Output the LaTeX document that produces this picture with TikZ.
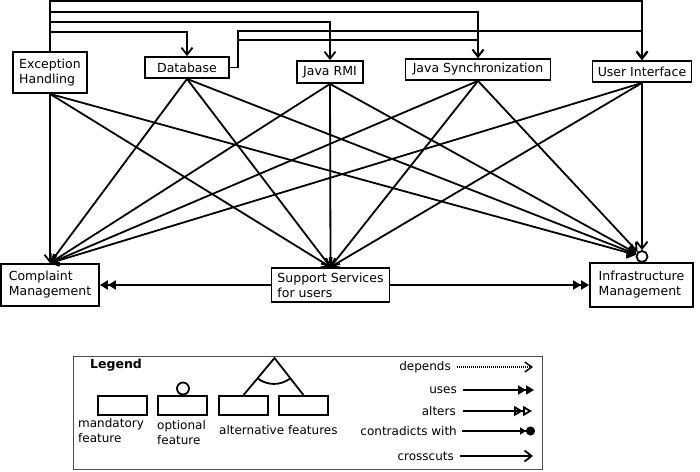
\documentclass[tikz,border=0pt]{standalone}
\usepackage{fontspec}
\setmainfont{DejaVu Sans}
\usetikzlibrary{arrows.meta,calc}
\begin{document}
\begin{tikzpicture}[x=1pt,y=-1pt,
  lw/.style={line width=1.8pt},
  box/.style={draw,lw,inner sep=0pt,align=left,font=\fontsize{12.5}{15}\selectfont},
  lbox/.style={draw,lw,inner sep=0pt,minimum width=49pt,minimum height=19pt},
  txt/.style={inner sep=0pt,align=left,font=\fontsize{12}{15}\selectfont},
  cc/.style={lw,-{Straight Barb[length=7pt,width=11pt]}},
  usesarr/.style={lw,-{Triangle[length=8pt,width=9pt]Triangle[length=8pt,width=9pt]}},
  altarr/.style={lw,-{Triangle[open,length=9pt,width=10pt]Triangle[open,length=9pt,width=10pt]}},
  contarr/.style={lw,-{Triangle[length=6pt,width=7pt]Circle[length=9pt]}},
  deparr/.style={line width=1.4pt,dash pattern=on 1pt off 1pt,-{Straight Barb[length=7pt,width=10pt,line width=1.4pt,sep=0pt]}},
]
\useasboundingbox (0,0) rectangle (700,471);

% feature nodes
\node[box,minimum width=74pt,minimum height=41pt] (eh) at (50,72.5) {Exception\\Handling};
\node[box,minimum width=84pt,minimum height=21pt] (db) at (187,67.5) {Database};
\node[box,minimum width=66pt,minimum height=22pt] (rmi) at (330,72) {Java RMI};
\node[box,minimum width=145pt,minimum height=21pt] (js) at (478,69.5) {Java Synchronization};
\node[box,minimum width=99pt,minimum height=21pt] (ui) at (642,71.5) {User Interface};
\node[box,minimum width=98pt,minimum height=42pt] (cm) at (50,285) {Complaint\\Management};
\node[box,minimum width=118pt,minimum height=34pt] (ss) at (330.5,285) {Support Services\\for users};
\node[box,minimum width=103pt,minimum height=44pt] (im) at (641.5,285) {Infrastructure\\Management};
\node[circle,draw,lw,minimum size=11pt,inner sep=0pt] (oc) at (642,256.5) {};

% crosscut routes along the top
\draw[cc,line width=2.2pt] (eh.north) -- ++(0,-50.5) -| (ui.north);
\draw[cc] (eh.north) -- ++(0,-39) -| (js.north);
\draw[cc] (eh.north) -- ++(0,-29) -| (rmi.north);
\draw[cc] (eh.north) -- ++(0,-19) -| (db.north);
\draw[cc] (db.east) -- ++(8,0) |- (ui.north |- 0,31) -- (ui.north);
\draw[cc] (db.east) -- ++(8,0) |- (js.north |- 0,40) -- (js.north);

% crosscuts to the lower features
\foreach \s in {eh,db,rmi,js,ui} {
  \draw[cc] (\s.south) -- (cm.north);
  \draw[cc] (\s.south) -- (ss.north);
  \draw[cc] (\s.south) -- (oc);
}

% uses
\draw[usesarr] (ss.west) -- (cm.east);
\draw[usesarr] (ss.east) -- (im.west);

% legend
\node[draw=black!70,line width=1pt,minimum width=469pt,minimum height=113pt,inner sep=0pt] (leg) at (307.5,412.5) {};
\node[anchor=west,inner sep=0pt,font=\bfseries\fontsize{12.5}{14}\selectfont] (legt) at (90,365) {Legend};
\node[lbox] (lm) at (122.5,405.5) {};
\node[lbox] (lo) at (182.5,405.5) {};
\node[circle,draw,lw,minimum size=12pt,inner sep=0pt] (loc) at (183,388.5) {};
\node[lbox] (la1) at (243.5,405.5) {};
\node[lbox] (la2) at (303.5,405.5) {};
\coordinate (apex) at (274.5,358);
\draw[lw] (la1.north) -- (apex) -- (la2.north);
\draw[lw] ($(apex)!0.55!(la1.north)$) to[bend right=35] ($(apex)!0.55!(la2.north)$);
\node[txt,anchor=north west] (tm) at (78,418) {mandatory\\feature};
\node[txt,anchor=north west] (to) at (157,420) {optional\\feature};
\node[txt,anchor=west] (ta) at (219,430) {alternative features};

\node[txt,anchor=east] (ldep) at (451,367) {depends};
\node[txt,anchor=east] (luse) at (457,390) {uses};
\node[txt,anchor=east] (lalt) at (456,411) {alters};
\node[txt,anchor=east] (lcon) at (457,431) {contradicts with};
\node[txt,anchor=east] (lcc) at (454,456) {crosscuts};
\coordinate (edep) at (533,367);
\coordinate (euse) at (534,390);
\coordinate (ealt) at (532,411);
\coordinate (econ) at (535,431);
\coordinate (ecc) at (533,456);
\draw[deparr] ([xshift=6pt]ldep.east) -- (edep);
\draw[usesarr] ([xshift=6pt]luse.east) -- (euse);
\draw[altarr] ([xshift=7pt]lalt.east) -- (ealt);
\draw[contarr] ([xshift=5pt]lcon.east) -- (econ);
\draw[cc] ([xshift=6pt]lcc.east) -- (ecc);
\end{tikzpicture}
\end{document}
